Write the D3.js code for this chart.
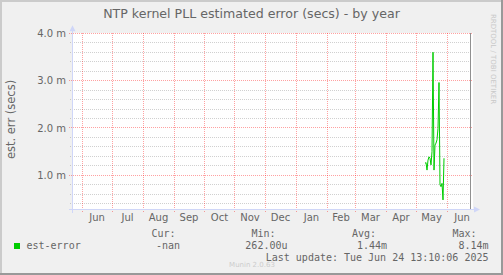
<!DOCTYPE html>
<html>
<head>
<meta charset="utf-8">
<script src="https://cdn.jsdelivr.net/npm/d3@7"></script>
<style>
  body { margin: 0; background: #F0F0F0; }
  svg { display: block; }
</style>
</head>
<body>
<svg id="chart" width="503" height="275"></svg>
<script>
// chart texts
const TITLE = 'NTP kernel PLL estimated error (secs) - by year';
const Y_LABEL = 'est. err (secs)';
const SERIES_NAME = 'est-error';
const SERIES_COLOR = '#00CC00';

// daily averages (milliseconds)
const DAYS = ['2025-05-10', '2025-05-11', '2025-05-12', '2025-05-13', '2025-05-14',
    '2025-05-15', '2025-05-16', '2025-05-17', '2025-05-18', '2025-05-19',
    '2025-05-20', '2025-05-21', '2025-05-22', '2025-05-23', '2025-05-24',
    '2025-05-25', '2025-05-26', '2025-05-27', '2025-05-28', '2025-05-29'];
const EST_ERROR_MS = [1.25, 1.27, 1.11, 1.32, 1.39,
    1.36, 1.22, 1.50, 3.60, 1.11,
    1.64, 1.68, 1.75, 1.99, 2.96,
    0.80, 0.76, 0.83, 0.48, 1.36];

// axes
const Y_MAJOR = [1.0, 2.0, 3.0, 4.0];
const Y_MINOR_STEP = 0.2;
const MONTHS = ['2024-06-01', '2024-07-01', '2024-08-01', '2024-09-01', '2024-10-01',
    '2024-11-01', '2024-12-01', '2025-01-01', '2025-02-01', '2025-03-01',
    '2025-04-01', '2025-05-01', '2025-06-01', '2025-07-01'];

// legend
const LEGEND_HEAD = ['Cur:', 'Min:', 'Avg:', 'Max:'];
const LEGEND_VALS = ['-nan', '262.00u', '1.44m', '8.14m'];
const LAST_UPDATE = 'Last update: Tue Jun 24 13:10:06 2025';
const NOW = '2025-06-24T13:10:06';

const SVG = d3.select('#chart');
const parse = d3.timeParse('%Y-%m-%d');
const W = 503, H = 275;
const LEFT = 72, RIGHT = 472, TOP = 33.3, BOTTOM = 209;

const MGRID = 'rgba(255,0,0,0.37)';
const GRID = 'rgba(128,128,128,0.37)';
const AXIS = '#CFD6F8';
const FONT = '#666666';
const SANS = 'DejaVu Sans, sans-serif';
const MONO = 'DejaVu Sans Mono, monospace';

const X = d3.scaleTime()
    .domain([new Date(2024, 4, 22), new Date(2025, 5, 26)])
    .range([LEFT, RIGHT]);
const Y = d3.scaleLinear()
    .domain([0.288, 4.0])
    .range([BOTTOM, TOP]);

const px = v => Math.floor(v) + 0.5;

// background + 3D frame
SVG.append('rect').attr('width', W).attr('height', H).attr('fill', '#F0F0F0');
SVG.append('path').attr('d', `M1,${H} V1 H${W}`).attr('stroke', '#CBCBCB').attr('stroke-width', 2).attr('fill', 'none');
SVG.append('path').attr('d', `M0,${H - 1} H${W - 1} V0`).attr('stroke', '#999999').attr('stroke-width', 2).attr('fill', 'none');

// canvas
SVG.append('rect')
    .attr('x', LEFT).attr('y', Math.floor(TOP))
    .attr('width', RIGHT - LEFT + 1).attr('height', BOTTOM - Math.floor(TOP))
    .attr('fill', '#FFFFFF');

const grid = SVG.append('g').attr('id', 'grid').attr('shape-rendering', 'crispEdges');

// minor horizontal lines
const minor = d3.range(0.4, 4.001, Y_MINOR_STEP).filter(v => Math.abs(v - Math.round(v)) > 0.01);
grid.selectAll('line.minor')
    .data(minor)
    .join('line')
    .attr('class', 'minor')
    .attr('x1', LEFT - 2).attr('x2', RIGHT)
    .attr('y1', d => px(Y(d))).attr('y2', d => px(Y(d)))
    .attr('stroke', GRID)
    .attr('stroke-dasharray', '1,1');

// major horizontal lines
grid.selectAll('line.major')
    .data(Y_MAJOR)
    .join('line')
    .attr('class', 'major')
    .attr('x1', LEFT - 3).attr('x2', RIGHT)
    .attr('y1', d => px(Y(d))).attr('y2', d => px(Y(d)))
    .attr('stroke', MGRID)
    .attr('stroke-dasharray', '1,1');

// month lines
const monthDates = MONTHS.map(parse);
grid.selectAll('line.month')
    .data(monthDates.filter(d => X(d) <= RIGHT))
    .join('line')
    .attr('class', 'month')
    .attr('x1', d => px(X(d))).attr('x2', d => px(X(d)))
    .attr('y1', TOP).attr('y2', BOTTOM + 3)
    .attr('stroke', MGRID)
    .attr('stroke-dasharray', '1,1');

// month labels, centred in each month
SVG.append('g')
    .attr('id', 'xLabels')
    .selectAll('text')
    .data(d3.pairs(monthDates))
    .join('text')
    .attr('x', d => X(new Date((d[0].getTime() + d[1].getTime()) / 2)))
    .attr('y', 221)
    .attr('text-anchor', 'middle')
    .style('font-family', SANS)
    .style('font-size', '10px')
    .style('fill', FONT)
    .text(d => d3.timeFormat('%b')(d[0]));

// y labels
SVG.append('g')
    .attr('id', 'yLabels')
    .selectAll('text')
    .data(Y_MAJOR)
    .join('text')
    .attr('x', 66)
    .attr('y', d => Y(d) + 3.8)
    .attr('text-anchor', 'end')
    .style('font-family', SANS)
    .style('font-size', '10px')
    .style('fill', FONT)
    .text(d => d3.format('.1f')(d) + ' m');

// now rule
SVG.append('line')
    .attr('x1', px(X(new Date(NOW)))).attr('x2', px(X(new Date(NOW))))
    .attr('y1', Math.floor(TOP)).attr('y2', BOTTOM)
    .attr('stroke', '#909090')
    .attr('shape-rendering', 'crispEdges');

// axes with arrows
const axes = SVG.append('g').attr('id', 'axes').attr('shape-rendering', 'crispEdges');
axes.append('line')
    .attr('x1', LEFT - 3).attr('x2', RIGHT + 4)
    .attr('y1', px(BOTTOM)).attr('y2', px(BOTTOM))
    .attr('stroke', AXIS);
axes.append('line')
    .attr('x1', px(LEFT)).attr('x2', px(LEFT))
    .attr('y1', BOTTOM + 4).attr('y2', TOP - 4)
    .attr('stroke', AXIS);
SVG.append('path')
    .attr('d', `M${RIGHT + 2},${px(BOTTOM) - 3} L${RIGHT + 8},${px(BOTTOM)} L${RIGHT + 2},${px(BOTTOM) + 3} Z`)
    .attr('fill', AXIS);
SVG.append('path')
    .attr('d', `M${px(LEFT) - 3},${TOP - 2} L${px(LEFT)},${TOP - 8} L${px(LEFT) + 3},${TOP - 2} Z`)
    .attr('fill', AXIS);

// the series
const series = DAYS.map((d, i) => ({ date: parse(d), value: EST_ERROR_MS[i] }));
SVG.append('path')
    .datum(series)
    .attr('d', d3.line()
        .x(d => X(d.date))
        .y(d => Y(d.value)))
    .attr('fill', 'none')
    .attr('stroke', SERIES_COLOR)
    .attr('stroke-width', 1);

// title
SVG.append('text')
    .attr('x', 251.5).attr('y', 17.5)
    .attr('text-anchor', 'middle')
    .style('font-family', SANS)
    .style('font-size', '12.6px')
    .style('fill', FONT)
    .text(TITLE);

// vertical y label
SVG.append('text')
    .attr('transform', 'translate(15,119.5) rotate(-90)')
    .attr('text-anchor', 'middle')
    .style('font-family', SANS)
    .style('font-size', '11.5px')
    .style('fill', FONT)
    .text(Y_LABEL);

// rrdtool watermark
SVG.append('text')
    .attr('transform', 'translate(491,59) rotate(90)')
    .attr('text-anchor', 'middle')
    .style('font-family', SANS)
    .style('font-size', '7px')
    .style('fill', '#C8C8C8')
    .text('RRDTOOL / TOBI OETIKER');

// legend
SVG.append('rect')
    .attr('x', 14).attr('y', 243).attr('width', 6).attr('height', 6)
    .attr('fill', SERIES_COLOR);

const legend = SVG.append('g')
    .attr('id', 'legend')
    .style('font-family', MONO)
    .style('font-size', '10px')
    .style('fill', FONT);

legend.append('text').attr('x', 26.5).attr('y', 249).text(SERIES_NAME);

const HEAD_END = [175.5, 275.5, 376, 476.5];
const VAL_END = [180, 287.5, 387, 488.5];
legend.selectAll('text.head')
    .data(LEGEND_HEAD)
    .join('text')
    .attr('class', 'head')
    .attr('x', (d, i) => HEAD_END[i]).attr('y', 237)
    .attr('text-anchor', 'end')
    .text(d => d);
legend.selectAll('text.val')
    .data(LEGEND_VALS)
    .join('text')
    .attr('class', 'val')
    .attr('x', (d, i) => VAL_END[i]).attr('y', 249)
    .attr('text-anchor', 'end')
    .text(d => d);
legend.append('text')
    .attr('x', 488.5).attr('y', 261)
    .attr('text-anchor', 'end')
    .text(LAST_UPDATE);

SVG.append('text')
    .attr('x', 252).attr('y', 267)
    .attr('text-anchor', 'middle')
    .style('font-family', SANS)
    .style('font-size', '7px')
    .style('fill', '#CCCCCC')
    .text('Munin 2.0.63');
</script>
</body>
</html>
